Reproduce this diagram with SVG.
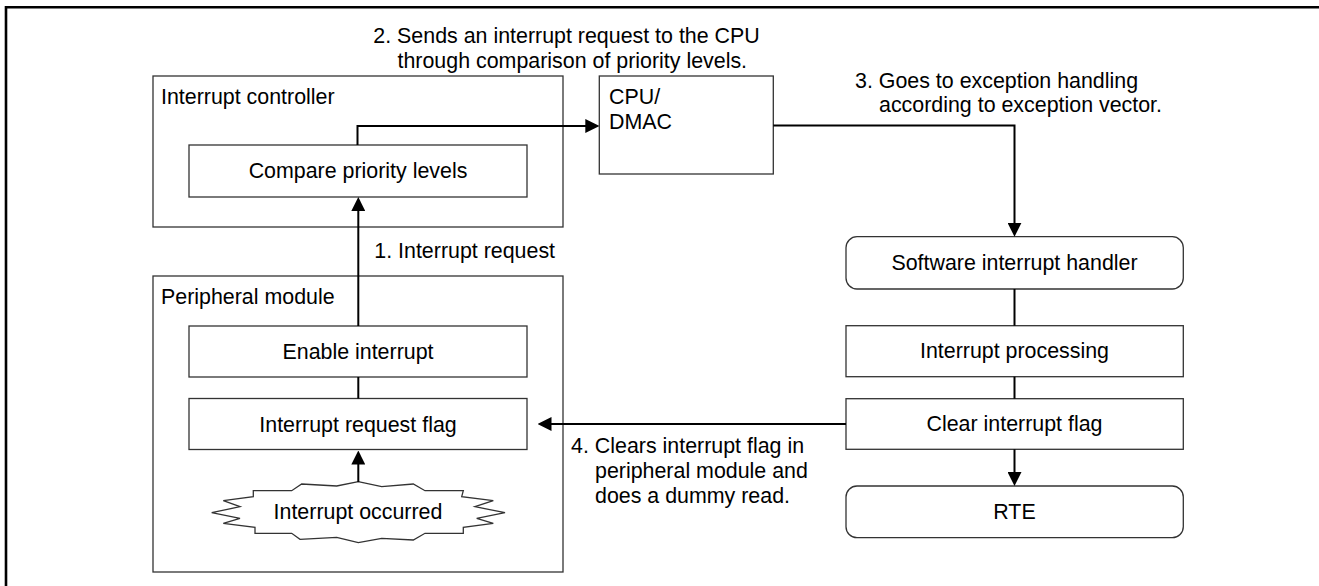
<svg xmlns="http://www.w3.org/2000/svg" width="1319" height="586" viewBox="0 0 1319 586">
<style>
  .box { fill: #fff; stroke: #333; stroke-width: 1.3; }
  .t { font-family: "Liberation Sans", Arial, sans-serif; font-size: 21.4px; fill: #000; }
  .c { text-anchor: middle; }
  .conn { fill: none; stroke: #000; stroke-width: 2; }
</style>
<defs>
  <marker id="ah" markerUnits="userSpaceOnUse" markerWidth="14" markerHeight="14" refX="4" refY="7" orient="auto">
    <path d="M0,0 L14,7 L0,14 z" fill="#000"/>
  </marker>
</defs>
<rect width="1319" height="586" fill="#fff"/>
<path d="M6,586 V7.3 H1319" fill="none" stroke="#000" stroke-width="2.6"/>

<g id="interrupt-controller">
  <rect class="box" x="153" y="76" width="410" height="151"/>
  <text class="t" x="161" y="104">Interrupt controller</text>
</g>
<g id="compare">
  <rect class="box" x="189" y="145" width="338" height="52"/>
  <text class="t c" x="358" y="177.5">Compare priority levels</text>
</g>
<g id="peripheral-module">
  <rect class="box" x="153" y="276" width="410" height="296"/>
  <text class="t" x="161" y="304">Peripheral module</text>
</g>
<g id="enable">
  <rect class="box" x="189" y="326" width="338" height="51"/>
  <text class="t c" x="358" y="358.5">Enable interrupt</text>
</g>
<g id="flag">
  <rect class="box" x="189" y="398.5" width="338" height="51"/>
  <text class="t c" x="358" y="431.5">Interrupt request flag</text>
</g>
<g id="occurred">
  <polygon class="box" points="253.3,490.7 291.7,490.7 301.7,484 336.7,486 358.3,481.7 381.7,486.7 413.3,484 425,490.7 463.3,490.7 461.7,496.7 493.3,500.7 475,506.7 505,512.7 476.7,518.3 493.3,523.3 463.3,527.3 463.3,533.3 425,533.3 413.3,540 381.7,538.3 358.3,542.7 336.7,537.3 300,539.3 291.7,533.3 255,533.3 255,527.3 223.3,523.3 240,518.3 211.7,512.7 240,506.7 223.3,500.7 253.3,496.7"/>
  <text class="t c" x="358" y="518.5">Interrupt occurred</text>
</g>
<g id="cpu">
  <rect class="box" x="599.3" y="76" width="174" height="98"/>
  <text class="t" x="609" y="104">CPU/</text>
  <text class="t" x="609" y="128.5">DMAC</text>
</g>
<g id="handler">
  <rect class="box" x="846" y="236.7" width="337.3" height="52.3" rx="11"/>
  <text class="t c" x="1014.5" y="270">Software interrupt handler</text>
</g>
<g id="processing">
  <rect class="box" x="846" y="325.7" width="337.3" height="51"/>
  <text class="t c" x="1014.5" y="358.3">Interrupt processing</text>
</g>
<g id="clear">
  <rect class="box" x="846" y="398.7" width="337.3" height="50.6"/>
  <text class="t c" x="1014.5" y="431">Clear interrupt flag</text>
</g>
<g id="rte">
  <rect class="box" x="846" y="486" width="337.3" height="51.7" rx="11"/>
  <text class="t c" x="1014.5" y="518.7">RTE</text>
</g>

<g id="connectors">
  <path class="conn" d="M358.3,326 V207" marker-end="url(#ah)"/>
  <path class="conn" d="M358.3,377 V398.5"/>
  <path class="conn" d="M358.3,482 V460.5" marker-end="url(#ah)"/>
  <path class="conn" d="M357.5,145 V126 H589.3" marker-end="url(#ah)"/>
  <path class="conn" d="M773.3,125.5 H1014.5 V226.7" marker-end="url(#ah)"/>
  <path class="conn" d="M1014.5,289 V325.7"/>
  <path class="conn" d="M1014.5,376.7 V398.7"/>
  <path class="conn" d="M1014.5,449.3 V476" marker-end="url(#ah)"/>
  <path class="conn" d="M846,424 H547.5" marker-end="url(#ah)"/>
</g>

<g id="labels">
  <text class="t" x="373.3" y="43.3">2. Sends an interrupt request to the CPU</text>
  <text class="t" x="397.5" y="68.3">through comparison of priority levels.</text>
  <text class="t" x="855" y="88.3">3. Goes to exception handling</text>
  <text class="t" x="879" y="111.5">according to exception vector.</text>
  <text class="t" x="374.3" y="258.3">1. Interrupt request</text>
  <text class="t" x="571" y="453.3">4. Clears interrupt flag in</text>
  <text class="t" x="595" y="478.3">peripheral module and</text>
  <text class="t" x="595" y="503.3">does a dummy read.</text>
</g>
</svg>
